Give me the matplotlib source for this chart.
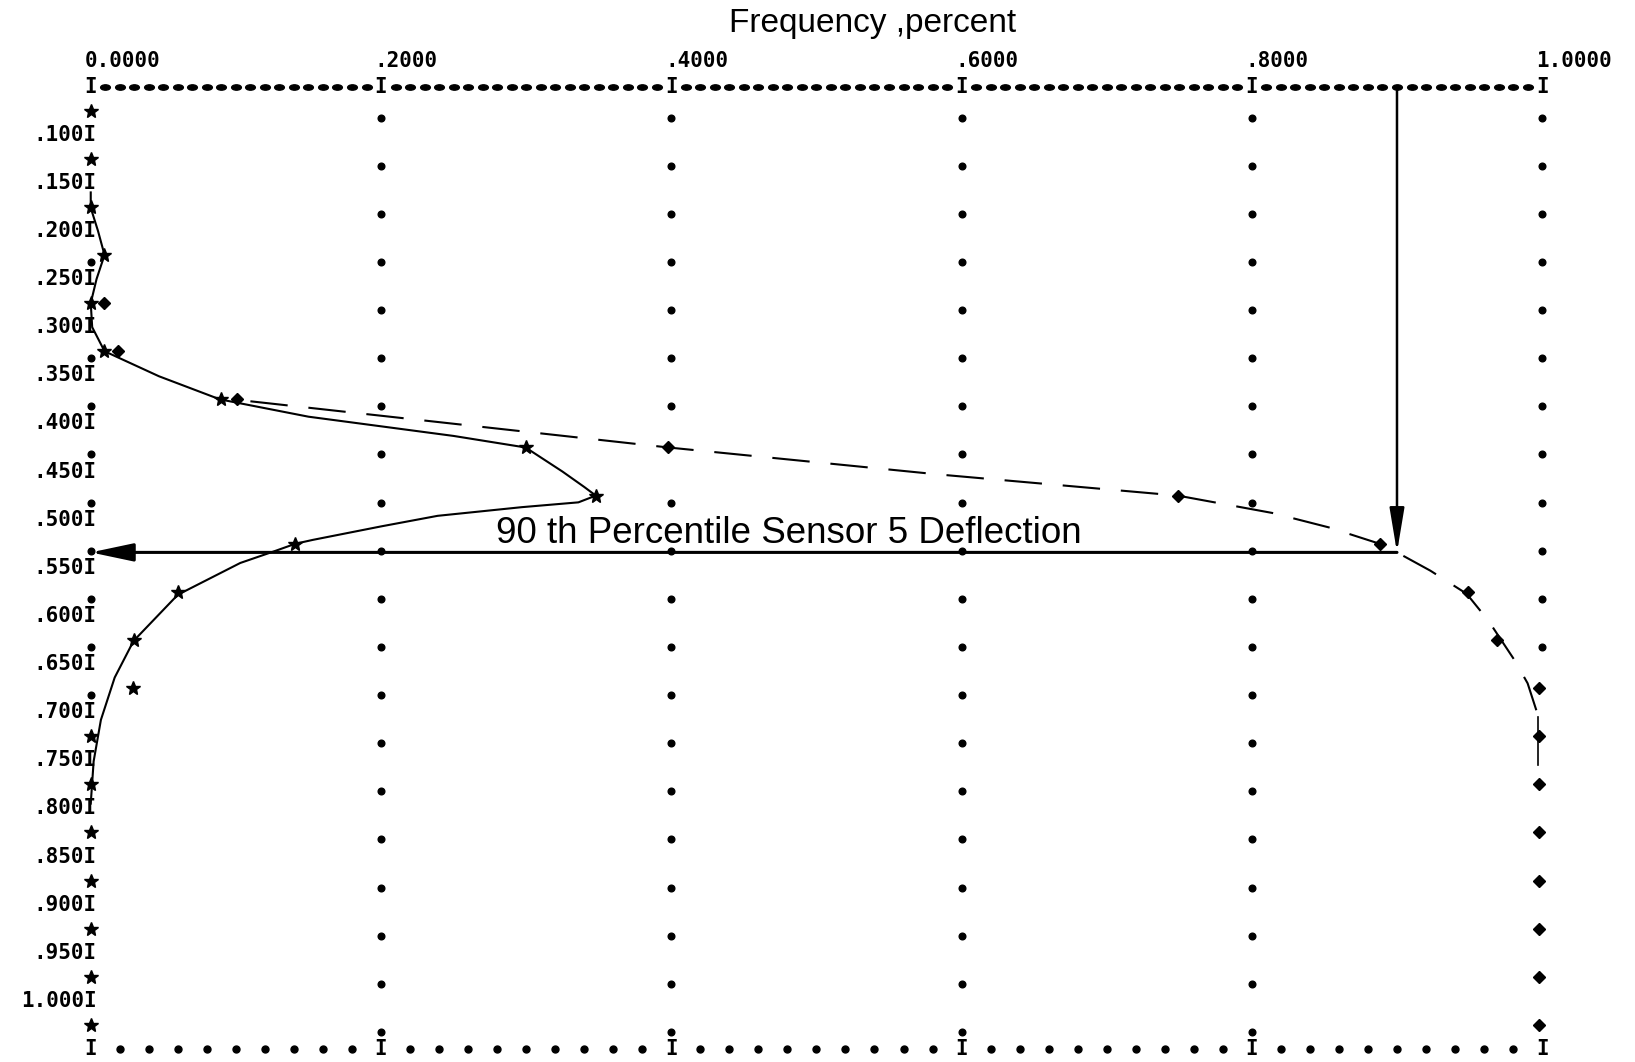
import numpy as np
import matplotlib.pyplot as plt
from matplotlib.path import Path
from matplotlib.transforms import Affine2D, offset_copy

plt.rcParams['lines.scale_dashes'] = False

# deflection rows (bin centres)
rows = [0.075, 0.125, 0.175, 0.225, 0.275, 0.325, 0.375, 0.425, 0.475, 0.525,
        0.575, 0.625, 0.675, 0.725, 0.775, 0.825, 0.875, 0.925, 0.975, 1.025]
# frequency (*) and cumulative frequency (diamonds)
freq = [0, 0, 0, 0.009, 0, 0.009, 0.090, 0.300, 0.348, 0.141,
        0.060, 0.030, 0.029, 0, 0, 0, 0, 0, 0, 0]
cum_freq = [0, 0, 0, 0.009, 0.009, 0.019, 0.101, 0.398, 0.749, 0.888,
            0.949, 0.969, 0.998, 0.998, 0.998, 0.998, 0.998, 0.998, 0.998, 0.998]

# hand drawn curves traced over the printout
freq_curve_x = [0, 0, 0.005, 0.0095, 0.004, 0, 0.001, 0.0095, 0.047, 0.089, 0.150,
                0.200, 0.250, 0.2996, 0.325, 0.340, 0.348, 0.336, 0.297, 0.239, 0.200,
                0.153, 0.141, 0.128, 0.103, 0.060, 0.0295, 0.0165, 0.007, 0.002, 0]
freq_curve_y = [0.160, 0.176, 0.200, 0.225, 0.250, 0.275, 0.300, 0.325, 0.351, 0.375, 0.393,
                0.403, 0.413, 0.425, 0.450, 0.466, 0.475, 0.482, 0.487, 0.496, 0.507,
                0.521, 0.525, 0.532, 0.545, 0.578, 0.626, 0.664, 0.708, 0.751, 0.795]
cum_curve_x = [0.110, 0.398, 0.584, 0.749, 0.814, 0.853, 0.888, 0.900, 0.923, 0.948,
               0.963, 0.981, 0.990, 0.996]
cum_curve_y = [0.377, 0.425, 0.453, 0.475, 0.493, 0.508, 0.525, 0.534, 0.553, 0.577,
               0.605, 0.646, 0.670, 0.698]
cum_tail_x = [0.997, 0.997]
cum_tail_y = [0.705, 0.755]

# 90th percentile
p90_freq = 0.90
p90_defl = 0.534

x_ticks = [0.0, 0.2, 0.4, 0.6, 0.8, 1.0]
x_tick_labels = ['0.0000', '.2000', '.4000', '.6000', '.8000', '1.0000']
y_ticks = [0.10, 0.15, 0.20, 0.25, 0.30, 0.35, 0.40, 0.45, 0.50, 0.55,
           0.60, 0.65, 0.70, 0.75, 0.80, 0.85, 0.90, 0.95, 1.00]
y_tick_labels = ['.100', '.150', '.200', '.250', '.300', '.350', '.400', '.450', '.500', '.550',
                 '.600', '.650', '.700', '.750', '.800', '.850', '.900', '.950', '1.000']

fig = plt.figure(figsize=(16.35, 10.62), dpi=100)
ax = fig.add_axes([0.0555, 0.0122, 0.8877, 0.9063])
ax.set_xlim(0, 1)
ax.set_ylim(1.05, 0.05)
ax.axis('off')

mono = dict(family='DejaVu Sans Mono', fontweight='bold', fontsize=15, color='k')
ellipse = Path.unit_circle().transformed(Affine2D().scale(1.0, 0.55))

# printer borders
top_x = [i / 100 for i in range(1, 100) if i % 20]
bot_x = [i / 50 for i in range(1, 50) if i % 10]
ax.plot(top_x, [0.05] * len(top_x), ls='none', marker=ellipse, ms=7, color='k', clip_on=False)
ax.plot(bot_x, [1.05] * len(bot_x), ls='none', marker='o', ms=5, color='k', clip_on=False)
for t in x_ticks:
    ax.text(t, 0.05, 'I', ha='center', va='center', **mono)
    ax.text(t, 1.05, 'I', ha='center', va='center', **mono)

# grid of periods (sit low in the character cell), overprinted by plot symbols
dot_tr = offset_copy(ax.transData, fig=fig, y=-5, units='points')
for gx in x_ticks[1:]:
    gy = [r for r, c in zip(rows, cum_freq) if abs(c - gx) > 0.01]
    ax.plot([gx] * len(gy), gy, ls='none', marker='o', ms=4.8, color='k',
            transform=dot_tr, clip_on=False)
left_rows = [r for r, f in zip(rows, freq) if f > 0.004]
ax.plot([0] * len(left_rows), left_rows, ls='none', marker='o', ms=4.8, color='k',
        transform=dot_tr, clip_on=False)

# axis labels
lab_tr = offset_copy(ax.transData, fig=fig, x=4.5, units='points')
for yv, lab in zip(y_ticks, y_tick_labels):
    ax.text(0, yv, lab + 'I', ha='right', va='center', transform=lab_tr, **mono)
top_tr = offset_copy(ax.transData, fig=fig, x=-4.5, units='points')
for xv, lab in zip(x_ticks, x_tick_labels):
    ax.text(xv, 0.023, lab, ha='left', va='center', transform=top_tr, **mono)

# hand drawn curves
ax.plot(freq_curve_x, freq_curve_y, color='k', lw=1.5, clip_on=False)
ax.plot(cum_curve_x, cum_curve_y, color='k', lw=1.5, dashes=(27, 15), clip_on=False)
ax.plot(cum_tail_x, cum_tail_y, color='k', lw=1.2, clip_on=False)

# printed points
ax.plot(freq, rows, ls='none', marker='*', ms=10, color='k', clip_on=False)
cx = [c for c, f in zip(cum_freq, freq) if abs(c - f) > 0.003]
cy = [r for r, c, f in zip(rows, cum_freq, freq) if abs(c - f) > 0.003]
ax.plot(cx, cy, ls='none', marker='D', ms=6, color='k', clip_on=False)

# 90th percentile arrows
ax.annotate('', xy=(p90_freq, p90_defl), xytext=(p90_freq, 0.05),
            arrowprops=dict(arrowstyle='-|>,head_length=2.7,head_width=0.45', lw=1.8,
                            color='k', shrinkA=0, shrinkB=0, mutation_scale=10))
ax.annotate('', xy=(0, p90_defl), xytext=(p90_freq, p90_defl),
            arrowprops=dict(arrowstyle='-|>,head_length=2.6,head_width=0.55', lw=2.2,
                            color='k', shrinkA=0, shrinkB=0, mutation_scale=10))
ax.text(0.279, 0.514, '90 th Percentile Sensor 5 Deflection', ha='left', va='center',
        family='Liberation Sans', fontsize=26.5, color='k')

fig.text(0.5336, 0.978, 'Frequency ,percent', ha='center', va='center',
         family='Liberation Sans', fontsize=24, color='k')

fig.savefig('out.png', dpi=100, facecolor='white')
